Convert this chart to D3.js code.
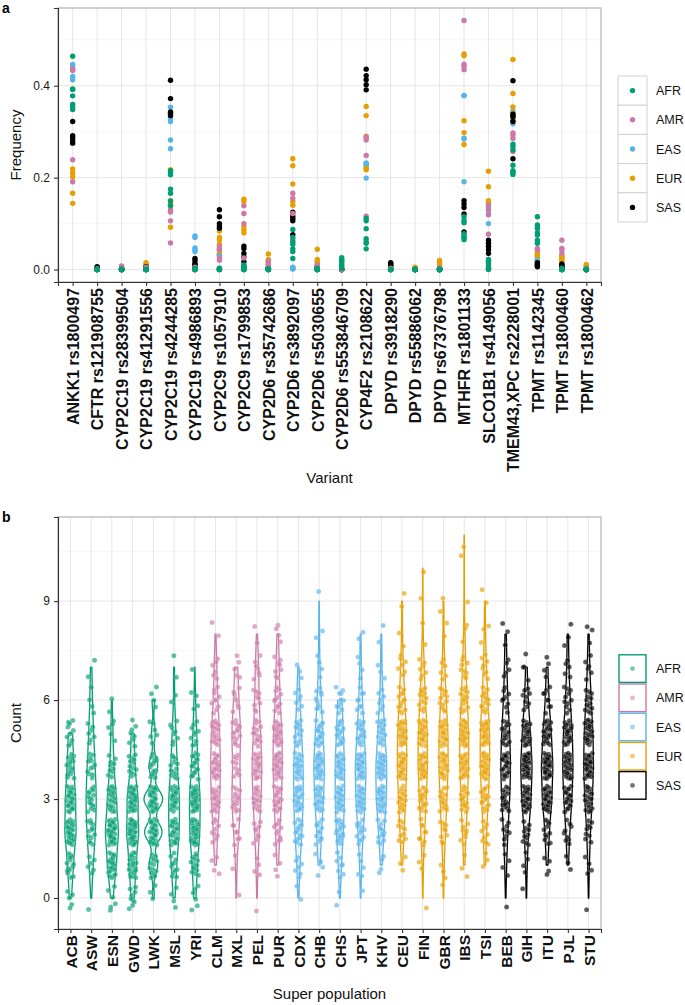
<!DOCTYPE html>
<html><head><meta charset="utf-8">
<script src="https://cdn.jsdelivr.net/npm/d3@7"></script>
<style>
body{margin:0;background:#fff}
svg{display:block}
text{font-family:'Liberation Sans',Arial,Helvetica,sans-serif}
</style>
</head><body>
<svg id="chart" width="685" height="1005"></svg>
<script>
// ---------------- DATA ----------------
const superPops = ["AFR", "AMR", "EAS", "EUR", "SAS"];
const superColors = ["#009E73", "#CC79A7", "#56B4E9", "#E69F00", "#000000"];

// Panel a: allele frequency per variant, one value per population
const variants = ["ANKK1 rs1800497","CFTR rs121908755","CYP2C19 rs28399504","CYP2C19 rs41291556",
  "CYP2C19 rs4244285","CYP2C19 rs4986893","CYP2C9 rs1057910","CYP2C9 rs1799853",
  "CYP2D6 rs35742686","CYP2D6 rs3892097","CYP2D6 rs5030655","CYP2D6 rs553846709",
  "CYP4F2 rs2108622","DPYD rs3918290","DPYD rs55886062","DPYD rs67376798",
  "MTHFR rs1801133","SLCO1B1 rs4149056","TMEM43,XPC rs2228001","TPMT rs1142345",
  "TPMT rs1800460","TPMT rs1800462"];

const freqAFR = [
  [0.464,0.393,0.392,0.378,0.359,0.354,0.348],[0,0,0,0,0,0,0],[0,0,0,0,0,0,0],[0,0,0,0,0,0,0],
  [0.215,0.211,0.206,0.175,0.166,0.149,0.139],[0.003,0.002,0.001,0,0,0,0],[0.003,0.002,0.001,0,0,0,0],
  [0.010,0.008,0.006,0.004,0.002,0,0],[0.002,0.001,0,0,0,0,0],[0.087,0.070,0.060,0.055,0.045,0.039,0.024],
  [0.003,0.002,0,0,0,0,0],[0.026,0.022,0.018,0.015,0.010,0.006,0.002],[0.111,0.106,0.089,0.067,0.060,0.057,0.045],
  [0,0,0,0,0,0,0],[0,0,0,0,0,0,0],[0,0,0,0,0,0,0],[0.115,0.107,0.102,0.078,0.073,0.069,0.065],
  [0.022,0.018,0.015,0.010,0.005,0.002,0],[0.273,0.268,0.260,0.227,0.215,0.211,0.207],
  [0.115,0.097,0.091,0.080,0.075,0.064,0.057],[0.003,0.002,0.001,0,0,0,0],[0,0,0,0,0,0,0]];
const freqAMR = [
  [0.437,0.433,0.239,0.191],[0.002,0.001,0,0],[0.008,0.006,0.003,0],[0.005,0.003,0,0],
  [0.130,0.125,0.106,0.058],[0.005,0.003,0.002,0],[0.050,0.044,0.025,0.020],[0.139,0.122,0.100,0.025],
  [0.018,0.011,0.008,0.003],[0.166,0.155,0.122,0.065],[0.010,0.006,0.005,0.003],[0,0,0,0],
  [0.288,0.282,0.248,0.116],[0.003,0.002,0,0],[0.001,0,0,0],[0.004,0.003,0.002,0],
  [0.542,0.447,0.442,0.435],[0.140,0.130,0.119,0.077],[0.297,0.293,0.285,0.257],
  [0.089,0.060,0.046,0.043],[0.064,0.046,0.043,0.035],[0.003,0,0,0]];
const freqEAS = [
  [0.446,0.441,0.435,0.420,0.413],[0,0,0,0,0],[0.001,0,0,0,0],[0,0,0,0,0],
  [0.353,0.330,0.322,0.282,0.263],[0.073,0.070,0.047,0.043,0.039],[0.045,0.034,0.033,0.032,0.030],
  [0.002,0.001,0,0,0],[0,0,0,0,0],[0.005,0.004,0.003,0.002,0.001],[0,0,0,0,0],[0,0,0,0,0],
  [0.232,0.230,0.226,0.224,0.199],[0,0,0,0,0],[0,0,0,0,0],[0,0,0,0,0],
  [0.379,0.378,0.286,0.284,0.191],[0.138,0.135,0.128,0.120,0.100],[0.345,0.335,0.330,0.325,0.317],
  [0.030,0.025,0.022,0.020,0.018],[0,0,0,0,0],[0,0,0,0,0]];
const freqEUR = [
  [0.219,0.210,0.202,0.166,0.144],[0.002,0.001,0,0.001,0],[0.002,0.001,0,0,0],[0.015,0.010,0.008,0.005,0.004],
  [0.217,0.150,0.144,0.140,0.092],[0.002,0.001,0,0,0],[0.084,0.070,0.065,0.055,0.040],
  [0.153,0.148,0.094,0.087,0.080],[0.034,0.022,0.020,0.015,0.012],[0.241,0.226,0.186,0.148,0.140],
  [0.044,0.022,0.018,0.015,0.010],[0,0,0,0,0],[0.355,0.335,0.290,0.220,0.217],
  [0.008,0.006,0.005,0.004,0.003],[0.005,0.004,0.003,0.002,0.001],[0.020,0.015,0.012,0.008,0.006],
  [0.469,0.465,0.324,0.298,0.272],[0.214,0.180,0.150,0.146,0.143],[0.457,0.383,0.354,0.340,0.330],
  [0.040,0.035,0.033,0.030,0.015],[0.030,0.028,0.025,0.022,0.018],[0.011,0.008,0.006,0.005,0.003]];
const freqSAS = [
  [0.322,0.291,0.286,0.280,0.275],[0.006,0.004,0.003,0.002,0.001],[0.002,0.001,0,0,0],[0.006,0.005,0.004,0.002,0.001],
  [0.412,0.372,0.343,0.340,0.335],[0.024,0.019,0.013,0.010,0.008],[0.130,0.115,0.100,0.095,0.090],
  [0.051,0.046,0.035,0.028,0.017],[0.004,0.003,0.002,0.002,0.001],[0.125,0.116,0.111,0.106,0.076],
  [0.006,0.004,0.003,0.002,0.001],[0,0,0,0,0],[0.436,0.422,0.413,0.402,0.391],
  [0.015,0.013,0.012,0.010,0.008],[0,0,0,0,0],[0.002,0.001,0,0,0],
  [0.150,0.143,0.135,0.121,0.082],[0.064,0.057,0.050,0.043,0.035],[0.411,0.338,0.333,0.322,0.241],
  [0.015,0.012,0.010,0.008,0.006],[0.012,0.010,0.008,0.006,0.005],[0.001,0,0,0,0]];
const freqTicks = [0, 0.2, 0.4];

// Panel b: number of individuals carrying 0,1,2,... actionable variants, per population
const populations = ["ACB","ASW","ESN","GWD","LWK","MSL","YRI","CLM","MXL","PEL","PUR",
  "CDX","CHB","CHS","JPT","KHV","CEU","FIN","GBR","IBS","TSI","BEB","GIH","ITU","PJL","STU"];
const popSuper = ["AFR","AFR","AFR","AFR","AFR","AFR","AFR","AMR","AMR","AMR","AMR",
  "EAS","EAS","EAS","EAS","EAS","EUR","EUR","EUR","EUR","EUR","SAS","SAS","SAS","SAS","SAS"];
const countHistograms = [
  [5,14,27,24,16,10],             // ACB
  [1,6,13,16,12,7,4,2],           // ASW
  [6,22,32,22,10,5,2],            // ESN
  [9,20,33,30,13,8],              // GWD
  [3,14,28,30,14,6,4],            // LWK
  [4,11,22,23,13,8,2,2],          // MSL
  [6,14,27,29,17,10,4,1],         // YRI
  [0,4,10,20,23,19,10,6,2],       // CLM
  [1,2,8,15,10,15,8,5],           // MXL
  [1,4,9,17,21,15,9,7,2],         // PEL
  [0,4,11,19,24,22,12,8,4],       // PUR
  [2,7,16,22,22,14,7,3],          // CDX
  [0,5,12,22,28,19,10,4,2,1],     // CHB
  [2,8,18,24,24,18,11],           // CHS
  [1,5,13,24,28,18,9,4,2],        // JPT
  [0,4,13,25,27,17,8,3,2],        // KHV
  [0,3,10,17,23,22,13,7,2,2],     // CEU
  [1,3,9,17,23,22,13,7,2,1,1],    // FIN
  [1,3,9,15,21,20,12,6,2,2],      // GBR
  [0,3,9,17,23,25,15,9,3,1,1,1],  // IBS
  [0,3,9,17,25,25,15,8,3,2],      // TSI
  [1,4,9,17,21,17,9,5,3],         // BEB
  [1,4,11,24,29,21,9,4],          // GIH
  [0,4,11,24,29,21,9,4],          // ITU
  [0,3,9,19,25,21,11,5,3],        // PJL
  [1,4,9,19,25,22,13,6,3]         // STU
];
const countTicks = [0, 3, 6, 9];

// ---------------- DRAW ----------------
const svg = d3.select("#chart");
const color = d3.scaleOrdinal().domain(superPops).range(superColors);
const L = 58, R = 601;

function panelFrame(g, x, y, yTicks, minorTicks, top, bottom) {
  g.append("g").selectAll("line").data(minorTicks).join("line")
    .attr("x1", L).attr("x2", R).attr("y1", d => y(d)).attr("y2", d => y(d))
    .attr("stroke", "#f3f3f3").attr("stroke-width", 0.6);
  g.append("g").selectAll("line").data(yTicks).join("line")
    .attr("x1", L).attr("x2", R).attr("y1", d => y(d)).attr("y2", d => y(d))
    .attr("stroke", "#e6e6e6").attr("stroke-width", 1);
  g.append("g").selectAll("line").data(x.domain()).join("line")
    .attr("x1", d => x(d)).attr("x2", d => x(d)).attr("y1", top).attr("y2", bottom)
    .attr("stroke", "#e6e6e6").attr("stroke-width", 1);
  g.append("rect").attr("x", L).attr("y", top).attr("width", R - L).attr("height", bottom - top)
    .attr("fill", "none").attr("stroke", "#b8b8b8").attr("stroke-width", 1.3);
}

function axes(g, x, y, yTicks, fmt, bottom, xFont) {
  const ya = g.append("g").attr("transform", `translate(${L},0)`)
    .call(d3.axisLeft(y).tickValues(yTicks).tickFormat(fmt).tickSize(4).tickPadding(4));
  ya.select(".domain").attr("stroke", "#333").attr("stroke-width", 1.1);
  ya.selectAll(".tick line").attr("stroke", "#333").attr("stroke-width", 1.1);
  ya.selectAll(".tick text").attr("font-size", 12).attr("fill", "#1a1a1a")
    .style("font-family", "'Liberation Sans',Arial,sans-serif");
  const xa = g.append("g").attr("transform", `translate(0,${bottom})`)
    .call(d3.axisBottom(x).tickSize(4).tickPadding(4));
  xa.select(".domain").attr("stroke", "#333").attr("stroke-width", 1.1);
  xa.selectAll(".tick line").attr("stroke", "#333").attr("stroke-width", 1.1);
  xa.selectAll(".tick text").attr("font-size", xFont).attr("font-weight", "bold").attr("fill", "#111")
    .style("font-family", "'Liberation Sans',Arial,sans-serif")
    .attr("text-anchor", "end").attr("transform", "rotate(-90)")
    .attr("x", -6).attr("y", 0).attr("dy", "0.36em");
}

// ===== Panel a =====
const gA = svg.append("g");
const xA = d3.scalePoint().domain(variants).range([L, R]).padding(0.6);
const yA = d3.scaleLinear().domain([-0.0271, 0.5691]).range([282, 8]);
panelFrame(gA, xA, yA, freqTicks, [0.1, 0.3, 0.5], 8, 282);

const freqBySuper = {AFR: freqAFR, AMR: freqAMR, EAS: freqEAS, EUR: freqEUR, SAS: freqSAS};
const drawOrder = ["EAS", "EUR", "SAS", "AMR", "AFR"];
const ptsA = [];
drawOrder.forEach(sp => {
  freqBySuper[sp].forEach((vals, vi) => vals.forEach(v => ptsA.push({sp, variant: variants[vi], v})));
});
gA.append("g").selectAll("circle").data(ptsA).join("circle")
  .attr("cx", d => xA(d.variant)).attr("cy", d => yA(d.v)).attr("r", 2.7)
  .attr("fill", d => color(d.sp));
axes(gA, xA, yA, freqTicks, d3.format(".1f"), 282, 16);

gA.append("text").attr("transform", "translate(21,145) rotate(-90)").attr("text-anchor", "middle")
  .attr("font-size", 15).attr("fill", "#111").text("Frequency");
gA.append("text").attr("x", (L + R) / 2).attr("y", 483).attr("text-anchor", "middle")
  .attr("font-size", 15).attr("fill", "#111").text("Variant");
svg.append("text").attr("x", 2).attr("y", 13).attr("font-size", 14).attr("font-weight", "bold").text("a");

// legend a
const legA = svg.append("g");
superPops.forEach((sp, i) => {
  const y0 = 76 + i * 29.2;
  legA.append("rect").attr("x", 618).attr("y", y0).attr("width", 29).attr("height", 29.2)
    .attr("fill", "#fff").attr("stroke", "#d2d2d2").attr("stroke-width", 1);
  legA.append("circle").attr("cx", 632.5).attr("cy", y0 + 14.6).attr("r", 2.7).attr("fill", color(sp));
  legA.append("text").attr("x", 656).attr("y", y0 + 14.6).attr("dy", "0.36em")
    .attr("font-size", 12.5).attr("fill", "#111").text(sp);
});

// ===== Panel b =====
const gB = svg.append("g");
const xB = d3.scalePoint().domain(populations).range([L, R]).padding(0.6);
const yB = d3.scaleLinear().domain([-0.94, 11.55]).range([929, 517]);
panelFrame(gB, xB, yB, countTicks, [1.5, 4.5, 7.5, 10.5], 517, 929);

function quantile7(sorted, p) {
  const h = (sorted.length - 1) * p, lo = Math.floor(h);
  return sorted[lo] + (h - lo) * ((sorted[Math.min(lo + 1, sorted.length - 1)]) - sorted[lo]);
}
function kde(hist) {
  const vals = [];
  hist.forEach((c, k) => { for (let j = 0; j < c; j++) vals.push(k); });
  const n = vals.length;
  const sd = d3.deviation(vals);
  const iqr = quantile7(vals, 0.75) - quantile7(vals, 0.25);
  let lo = Math.min(sd, iqr / 1.34);
  if (!(lo > 0)) lo = sd || 1;
  const bw = 0.9 * lo * Math.pow(n, -0.2);
  const mn = d3.min(vals), mx = d3.max(vals);
  const pts = [];
  const N = 160;
  for (let i = 0; i <= N; i++) {
    const t = mn + (mx - mn) * i / N;
    let s = 0;
    hist.forEach((c, k) => { if (c) { const z = (t - k) / bw; s += c * Math.exp(-0.5 * z * z); } });
    pts.push({v: t, d: s / (n * bw * Math.sqrt(2 * Math.PI))});
  }
  return {vals, pts};
}
const dens = countHistograms.map(kde);
const maxD = d3.max(dens, e => d3.max(e.pts, p => p.d));
const halfMax = 0.9 * xB.step() / 2;

const violins = gB.append("g");
dens.forEach((e, pi) => {
  const cx = xB(populations[pi]);
  const area = d3.area()
    .y(p => yB(p.v))
    .x0(p => cx - p.d / maxD * halfMax)
    .x1(p => cx + p.d / maxD * halfMax);
  violins.append("path").attr("d", area(e.pts))
    .attr("fill", "none").attr("stroke", color(popSuper[pi])).attr("stroke-width", 1.3)
    .attr("stroke-linejoin", "round");
});

// jittered points: deterministic Halton-sequence jitter (bases 2 and 3)
function halton(i, b) { let f = 1, r = 0; while (i > 0) { f /= b; r += f * (i % b); i = Math.floor(i / b); } return r; }
const ptsB = [];
dens.forEach((e, pi) => {
  e.vals.forEach((v, i) => {
    const fy = halton(i + 1 + pi * 7, 2);
    const fx = halton(i + 1 + pi * 11, 3);
    ptsB.push({pop: populations[pi], sp: popSuper[pi], v, jy: (fy - 0.5) * 0.8, jx: (fx - 0.5) * 0.36});
  });
});
gB.append("g").selectAll("circle").data(ptsB).join("circle")
  .attr("cx", d => xB(d.pop) + d.jx * xB.step())
  .attr("cy", d => yB(d.v + d.jy))
  .attr("r", 2.5)
  .attr("fill", d => color(d.sp)).attr("fill-opacity", 0.65)
  .attr("stroke", "#fff").attr("stroke-opacity", 0.5).attr("stroke-width", 0.4);

axes(gB, xB, yB, countTicks, d3.format("d"), 929, 15.5);
gB.append("text").attr("transform", "translate(21,723) rotate(-90)").attr("text-anchor", "middle")
  .attr("font-size", 15).attr("fill", "#111").text("Count");
gB.append("text").attr("x", (L + R) / 2).attr("y", 999).attr("text-anchor", "middle")
  .attr("font-size", 15).attr("fill", "#111").text("Super population");
svg.append("text").attr("x", 2).attr("y", 522).attr("font-size", 14).attr("font-weight", "bold").text("b");

// legend b
const legB = svg.append("g");
superPops.forEach((sp, i) => {
  const y0 = 654 + i * 29.2;
  legB.append("rect").attr("x", 619).attr("y", y0 + 0.8).attr("width", 27).attr("height", 27.6)
    .attr("fill", "#fff").attr("stroke", color(sp)).attr("stroke-width", 1.4);
  legB.append("circle").attr("cx", 632.5).attr("cy", y0 + 14.6).attr("r", 2.4)
    .attr("fill", color(sp)).attr("fill-opacity", 0.55);
  legB.append("text").attr("x", 656).attr("y", y0 + 14.6).attr("dy", "0.36em")
    .attr("font-size", 12.5).attr("fill", "#111").text(sp);
});
</script>
</body></html>
